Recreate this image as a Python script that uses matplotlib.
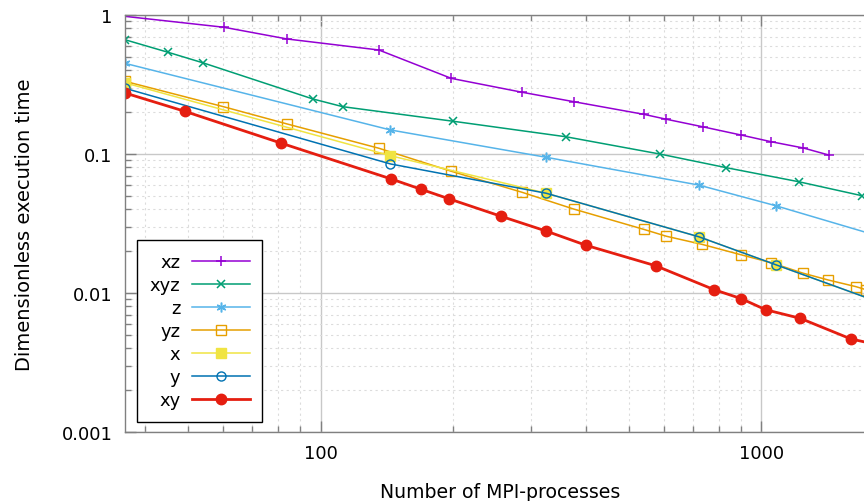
import matplotlib
matplotlib.use("Agg")
from matplotlib import pyplot as plt
import numpy as np

# data (log-log)
xz_n = [36, 60.4, 84, 135.6, 198, 286.7, 375, 541, 608, 736, 899, 1052, 1245, 1421]
xz_t = [0.978, 0.816, 0.672, 0.560, 0.350, 0.278, 0.238, 0.193, 0.178, 0.157, 0.137, 0.1226, 0.1105, 0.0984]

xyz_n = [36, 45.1, 54.2, 96.1, 112.3, 200, 360.6, 588, 833, 1215, 1692]
xyz_t = [0.664, 0.539, 0.452, 0.2487, 0.219, 0.172, 0.133, 0.1, 0.0797, 0.0632, 0.0501]

z_n = [36, 144.1, 325, 721, 1077, 2000]
z_t = [0.449, 0.1489, 0.0947, 0.0598, 0.0425, 0.0238]

yz_n = [36, 60.2, 84, 135.6, 198, 286.7, 375, 541, 609, 733, 898, 1054, 1242, 1419, 1641, 1728]
yz_t = [0.3334, 0.219, 0.1644, 0.11, 0.0751, 0.053, 0.0402, 0.0287, 0.0256, 0.0224,
        0.01886, 0.01651, 0.0139, 0.0124, 0.0111, 0.01056]

x_n = [36, 144.1, 325, 721, 1077, 2000]
x_t = [0.325, 0.0972, 0.0522, 0.0254, 0.016, 0.00785]

y_n = [36, 144.1, 325, 721, 1077, 2000]
y_t = [0.297, 0.0848, 0.0522, 0.0254, 0.016, 0.00785]

xy_n = [36, 49.2, 81.2, 144.7, 169.2, 196, 257, 325, 401, 576, 782, 901, 1023, 1226, 1597, 2000]
xy_t = [0.2748, 0.2028, 0.12, 0.0661, 0.0557, 0.0475, 0.0356, 0.0279, 0.022, 0.0157,
        0.01056, 0.0091, 0.00758, 0.00657, 0.00467, 0.0040]

plt.rcParams['font.family'] = 'DejaVu Sans'
plt.rcParams['font.size'] = 13

fig = plt.figure(figsize=(8.64, 5.02), dpi=100)
ax = fig.add_axes([125/864, (502-433)/502, 750/864, 417/502])

ax.plot(xz_n, xz_t, '-', color='#9400D3', marker='+', ms=7, mew=1.1, lw=1.1, label='xz')
ax.plot(xyz_n, xyz_t, '-', color='#009E73', marker='x', ms=6, mew=1.1, lw=1.1, label='xyz')
ax.plot(z_n, z_t, '-', color='#56B4E9', marker=(6, 2, 0), ms=7, mew=1.1, lw=1.1, label='z')
ax.plot(yz_n, yz_t, '-', color='#E69F00', marker='s', ms=6.5, mfc='none', mew=1.0, lw=1.1, label='yz')
ax.plot(x_n, x_t, '-', color='#F0E442', marker='s', ms=6.5, lw=1.1, label='x')
ax.plot(y_n, y_t, '-', color='#0072B2', marker='o', ms=6.5, mfc='none', mew=1.0, lw=1.1, label='y')
ax.plot(xy_n, xy_t, '-', color='#E51E10', marker='o', ms=7.5, lw=2.0, label='xy')

ax.set_xscale('log')
ax.set_yscale('log')
ax.set_xlim(36, 1811)
ax.set_ylim(0.001, 1)
ax.set_yticks([0.001, 0.01, 0.1, 1])
ax.set_yticklabels(['0.001', '0.01', '0.1', '1'])
ax.set_xticks([100, 1000])
ax.set_xticklabels(['100', '1000'])

ax.grid(True, which='major', color='#c8c8c8', lw=1.0, ls='-')
ax.grid(True, which='minor', color='#dcdcdc', lw=0.8, ls=(0, (2, 3)))
ax.set_axisbelow(True)
ax.tick_params(which='both', direction='in', top=True, right=True, color='#808080')
ax.tick_params(which='major', length=8, width=1, pad=9)
ax.tick_params(which='minor', length=4, width=1)
for s in ax.spines.values():
    s.set_color('#808080')
    s.set_linewidth(1.0)

ax.set_xlabel('Number of MPI-processes', fontsize=13.6, labelpad=14)
ax.set_ylabel('Dimensionless execution time', fontsize=14, labelpad=20)

leg = ax.legend(loc='lower left', bbox_to_anchor=(0.016, 0.024), markerfirst=False,
                frameon=True, fancybox=False, edgecolor='black', framealpha=1,
                handlelength=3.2, labelspacing=0.28, borderpad=0.7, handletextpad=0.65,
                borderaxespad=0)
leg.get_frame().set_linewidth(1.0)

fig.savefig('out.png', dpi=100)
